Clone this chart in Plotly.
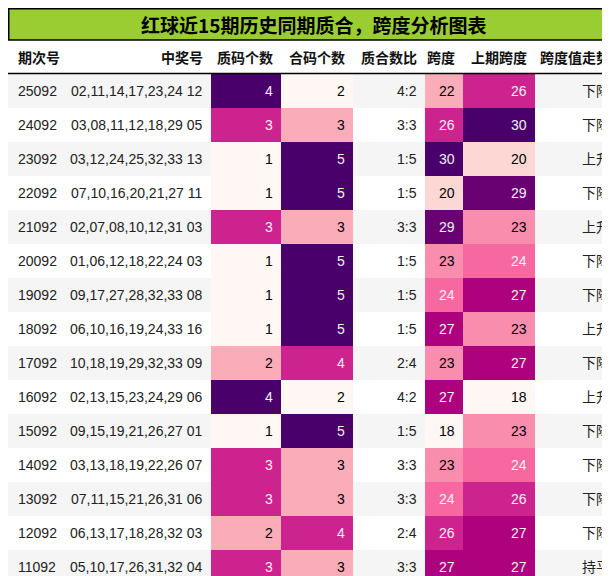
import plotly.graph_objects as go
from plotly.colors import sequential, sample_colorscale, hex_to_rgb

periods = ["25092","24092","23092","22092","21092","20092","19092","18092","17092","16092","15092","14092","13092","12092","11092"]
numbers = ["02,11,14,17,23,24 12","03,08,11,12,18,29 05","03,12,24,25,32,33 13","07,10,16,20,21,27 11",
           "02,07,08,10,12,31 03","01,06,12,18,22,24 03","09,17,27,28,32,33 08","06,10,16,19,24,33 16",
           "10,18,19,29,32,33 09","02,13,15,23,24,29 06","09,15,19,21,26,27 01","03,13,18,19,22,26 07",
           "07,11,15,21,26,31 06","06,13,17,18,28,32 03","05,10,17,26,31,32 04"]
prime = [4,3,1,1,3,1,1,1,2,4,1,3,3,2,3]
composite = [2,3,5,5,3,5,5,5,4,2,5,3,3,4,3]
ratio = ["4:2","3:3","1:5","1:5","3:3","1:5","1:5","1:5","2:4","4:2","1:5","3:3","3:3","2:4","3:3"]
span = [22,26,30,20,29,23,24,27,23,27,18,23,24,26,27]
prev_span = [26,30,20,29,23,24,27,23,27,18,23,24,26,27,27]
trend = ["下降","下降","上升","下降","上升","下降","下降","上升","下降","上升","下降","下降","下降","下降","持平"]
headers = ["期次号","中奖号","质码个数","合码个数","质合数比","跨度","上期跨度","跨度值走势"]
title = "红球近15期历史同期质合，跨度分析图表"

n = len(periods)
bg = ["#f5f5f5" if i % 2 == 0 else "#ffffff" for i in range(n)]

def to_rgb(c):
    if c.startswith("#"):
        return hex_to_rgb(c)
    return tuple(int(float(v)) for v in c[c.index("(")+1:-1].split(","))

def lum(rgb):
    def ch(v):
        v = v/255
        return v/12.92 if v <= 0.04045 else ((v+0.055)/1.055)**2.4
    r,g,b = rgb
    return 0.2126*ch(r)+0.7152*ch(g)+0.0722*ch(b)

def grad(vals):
    lo, hi = min(vals), max(vals)
    cols = sample_colorscale(sequential.RdPu, [(v-lo)/(hi-lo) for v in vals])
    txt = ["#f1f1f1" if lum(to_rgb(c)) < 0.408 else "#000000" for c in cols]
    return cols, txt

pc, pt = grad(prime)
cc, ct = grad(composite)
sc, st = grad(span)
psc, pst = grad(prev_span)
black = ["#222222"]*n
columns = [periods, numbers, prime, composite, ratio, span, prev_span, trend]
fills = [bg, bg, pc, cc, bg, sc, psc, bg]
fonts = [black, black, pt, ct, black, st, pst, black]

widths = [57,146,70,72,72,38,72,83]
edges = [0]
for w in widths:
    edges.append(edges[-1]+w)
TITLE_H, HEAD_TOP, HEAD_H, ROW_H = 32, 32, 33, 34
ROW0 = HEAD_TOP + HEAD_H + 1

shapes, ann = [], []
for c in range(len(columns)):
    x0, x1 = edges[c], edges[c+1]
    left = (c == 0)
    xt = x0 + 8 if left else x1 - 6
    xa = "left" if left else "right"
    ann.append(dict(x=xt, y=HEAD_TOP + HEAD_H/2, text=f"<b>{headers[c]}</b>", xanchor=xa,
                    showarrow=False, font=dict(family="Noto Sans CJK SC", size=14, color="#111111")))
    for i in range(n):
        y0 = ROW0 + ROW_H*i
        shapes.append(dict(type="rect", x0=x0, x1=x1, y0=y0, y1=y0+ROW_H, xref="x", yref="y",
                           fillcolor=fills[c][i], line=dict(width=0), layer="below"))
        ann.append(dict(x=xt, y=y0 + ROW_H/2, text=str(columns[c][i]), xanchor=xa, showarrow=False,
                        font=dict(family="Liberation Sans, Noto Sans CJK SC", size=14, color=fonts[c][i])))

shapes.append(dict(type="rect", x0=0.75, x1=609.25, y0=0.75, y1=TITLE_H, xref="x", yref="y",
                   fillcolor="#9acd32", line=dict(color="black", width=1.5)))
shapes.append(dict(type="line", x0=0, x1=610, y0=ROW0-0.5, y1=ROW0-0.5, xref="x", yref="y",
                   line=dict(color="black", width=1.5)))
ann.append(dict(x=305, y=TITLE_H/2+0.5, text=f"<b>{title}</b>", showarrow=False,
                font=dict(family="Noto Sans CJK SC", size=19, color="black")))

fig = go.Figure()
fig.update_layout(
    width=610, height=576, margin=dict(l=0, r=0, t=0, b=0),
    paper_bgcolor="white", plot_bgcolor="white",
    xaxis=dict(range=[0,610], visible=False, fixedrange=True),
    yaxis=dict(range=[576,0], visible=False, fixedrange=True),
    shapes=shapes, annotations=ann, showlegend=False,
)
fig.write_html("out.html", config={"displayModeBar": False})
